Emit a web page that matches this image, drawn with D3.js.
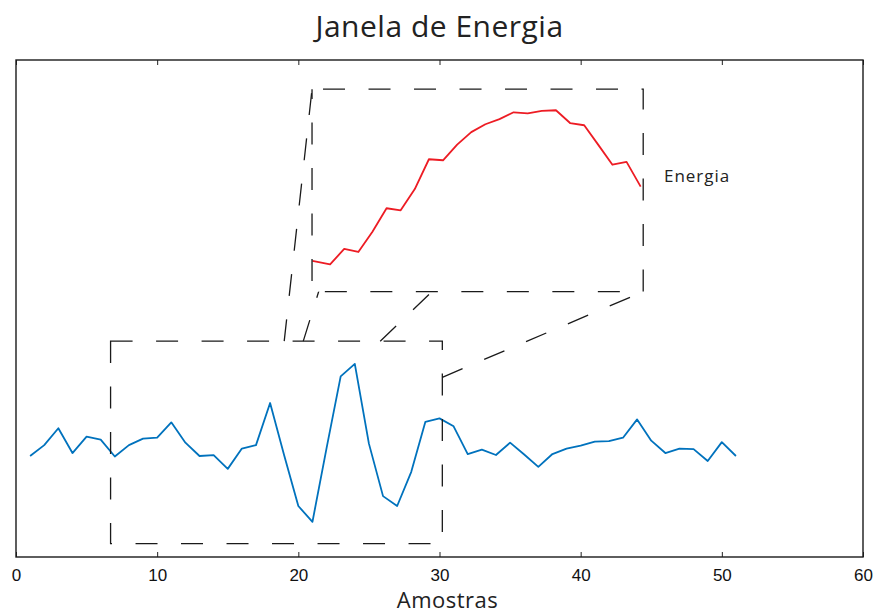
<!DOCTYPE html>
<html>
<head>
<meta charset="utf-8">
<script src="https://cdn.jsdelivr.net/npm/d3@7"></script>
<style>
  body { margin: 0; background: #fff; }
  svg text { fill: #222; }
</style>
</head>
<body>
<div id="chart"></div>
<script>
// sinal original (amostras 1..51)
const amostras = d3.range(1, 52);
const sinal = [20.4, 22.6, 26.0, 21.0, 24.3, 23.7, 20.3, 22.6, 23.9, 24.1,
               27.2, 23.1, 20.4, 20.6, 17.8, 21.9, 22.6, 31.1, 20.5, 10.3,
               7.1, 22.0, 36.5, 39.0, 22.9, 12.3, 10.3, 17.2, 27.3, 28.0,
               26.4, 20.8, 21.7, 20.6, 23.1, 20.7, 18.2, 20.8, 21.9, 22.5,
               23.3, 23.4, 24.1, 27.8, 23.5, 21.0, 21.9, 21.8, 19.4, 23.2,
               20.4];

// energia da janela (eixo de detalhe)
const energiaX = [21, 22.25, 23.25, 24.25, 25.25, 26.25, 27.25, 28.25, 29.25, 30.25,
                  31.25, 32.25, 33.25, 34.25, 35.25, 36.25, 37.25, 38.25, 39.25, 40.25,
                  41.25, 42.25, 43.25, 44.25];
const energiaY = [1.52, 1.35, 2.11, 1.96, 2.96, 4.12, 4.02, 5.07, 6.54, 6.49,
                  7.26, 7.88, 8.27, 8.52, 8.86, 8.81, 8.93, 8.96, 8.33, 8.22,
                  7.25, 6.27, 6.41, 5.19];

const xTicks = [0, 10, 20, 30, 40, 50, 60];

// janela selecionada e caixa do detalhe (em coordenadas do eixo principal)
const janela = {x0: 6.7, x1: 30.2, y0: 2.7, y1: 43.6};
const detalhe = {x0: 20.97, x1: 44.43, y0: 53.6, y1: 94.5};
const conectores = [
  [19.0, 43.6, 20.97, 94.5],
  [20.35, 43.6, 21.7, 56.0],
  [25.8, 43.6, 44.43, 94.5],
  [30.2, 36.3, 44.43, 53.6]
];

const W = 877, H = 615;
const margin = {top: 60, right: 14, bottom: 58, left: 16};

const svg = d3.select("#chart").append("svg")
  .attr("width", W).attr("height", H);

const x = d3.scaleLinear().domain([0, 60]).range([margin.left, W - margin.right]);
const y = d3.scaleLinear().domain([0, 100.4]).range([H - margin.bottom, margin.top]);

// titulo
svg.append("text")
  .attr("x", (margin.left + W - margin.right) / 2).attr("y", 37)
  .attr("text-anchor", "middle")
  .style("font-family", "'Open Sans', sans-serif")
  .style("font-size", "30px")
  .style("letter-spacing", "0.5px")
  .text("Janela de Energia");

// eixos
const xAxis = svg.append("g")
  .attr("transform", `translate(0,${y.range()[0]})`)
  .call(d3.axisBottom(x).tickValues(xTicks).tickSize(-5).tickPadding(12));
xAxis.select(".domain").remove();
xAxis.selectAll("text")
  .style("font-family", "'Liberation Sans Narrow', 'Liberation Sans', Arial, sans-serif")
  .style("font-size", "17px").style("fill", "#111");

const xTop = svg.append("g")
  .attr("transform", `translate(0,${y.range()[1]})`)
  .call(d3.axisTop(x).tickValues(xTicks).tickSize(-5).tickFormat(""));
xTop.select(".domain").remove();
svg.selectAll(".tick line").attr("stroke", "#222").attr("stroke-width", 1);

svg.append("rect")
  .attr("x", x(0)).attr("y", y(100.4))
  .attr("width", x(60) - x(0)).attr("height", y(0) - y(100.4))
  .attr("fill", "none").attr("stroke", "#1a1a1a").attr("stroke-width", 1.4);

svg.append("text")
  .attr("x", (x(0) + x(60)) / 2 + 8).attr("y", 608)
  .attr("text-anchor", "middle")
  .style("font-family", "'Open Sans', sans-serif")
  .style("font-size", "22px")
  .style("letter-spacing", "0.5px")
  .text("Amostras");

// sinal
const linha = d3.line().x((d, i) => x(amostras[i])).y(d => y(d));
svg.append("path").datum(sinal)
  .attr("d", linha)
  .attr("fill", "none").attr("stroke", "#0072BD").attr("stroke-width", 1.8)
  .attr("stroke-linejoin", "round");

const tracejado = "22,23.5";

// janela tracejada
svg.append("rect")
  .attr("x", x(janela.x0)).attr("y", y(janela.y1))
  .attr("width", x(janela.x1) - x(janela.x0)).attr("height", y(janela.y0) - y(janela.y1))
  .attr("fill", "none").attr("stroke", "#1a1a1a").attr("stroke-width", 1.3)
  .attr("stroke-dasharray", tracejado);

// linhas de ligacao
svg.selectAll(".conector").data(conectores).enter().append("line")
  .attr("class", "conector")
  .attr("x1", d => x(d[0])).attr("y1", d => y(d[1]))
  .attr("x2", d => x(d[2])).attr("y2", d => y(d[3]))
  .attr("stroke", "#1a1a1a").attr("stroke-width", 1.3)
  .attr("stroke-dasharray", tracejado);

// eixo de detalhe (fundo branco cobre as ligacoes)
svg.append("rect")
  .attr("x", x(detalhe.x0)).attr("y", y(detalhe.y1))
  .attr("width", x(detalhe.x1) - x(detalhe.x0)).attr("height", y(detalhe.y0) - y(detalhe.y1))
  .attr("fill", "#fff");

const yE = d3.scaleLinear().domain([0, 10]).range([y(detalhe.y0), y(detalhe.y1)]);
const linhaE = d3.line().x((d, i) => x(energiaX[i])).y(d => yE(d));
svg.append("path").datum(energiaY)
  .attr("d", linhaE)
  .attr("fill", "none").attr("stroke", "#ED1C24").attr("stroke-width", 1.8)
  .attr("stroke-linejoin", "round");

svg.append("rect")
  .attr("x", x(detalhe.x0)).attr("y", y(detalhe.y1))
  .attr("width", x(detalhe.x1) - x(detalhe.x0)).attr("height", y(detalhe.y0) - y(detalhe.y1))
  .attr("fill", "none").attr("stroke", "#1a1a1a").attr("stroke-width", 1.3)
  .attr("stroke-dasharray", tracejado)
  .attr("stroke-dashoffset", -11);

svg.append("text")
  .attr("x", x(45.9)).attr("y", yE(5.4))
  .style("font-family", "'Open Sans', sans-serif")
  .style("font-size", "17px")
  .style("letter-spacing", "1px")
  .text("Energia");
</script>
</body>
</html>
